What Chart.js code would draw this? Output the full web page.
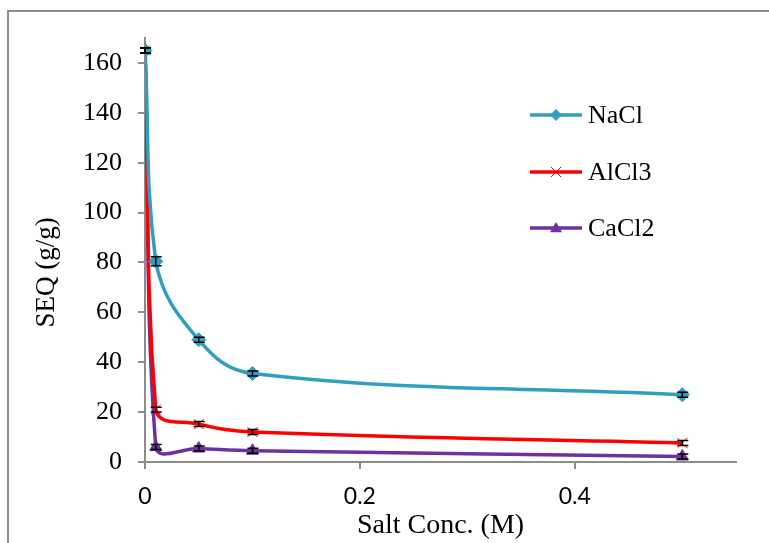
<!DOCTYPE html>
<html>
<head>
<meta charset="utf-8">
<script src="https://cdn.jsdelivr.net/npm/chart.js@4/dist/chart.umd.min.js"></script>
<style>
html,body{margin:0;padding:0;background:#fff;}
#wrap{width:769px;height:543px;position:relative;}
</style>
</head>
<body>
<div id="wrap"><canvas id="c" width="769" height="543"></canvas></div>
<script>
// ---- data ----
const concentrations = [0, 0.01, 0.05, 0.1, 0.5];
const naclSEQ  = [165, 80.5, 49, 35.5, 27];
const alcl3SEQ = [165, 21, 15.2, 12, 7.6];
const cacl2SEQ = [165, 6, 5.4, 4.5, 2.2];
const naclErr  = [1, 1.8, 1, 1, 1];
const alcl3Err = [1, 1, 1, 1, 1];
const cacl2Err = [1, 1, 1, 1, 1];
const seriesNames = ['NaCl', 'AlCl3', 'CaCl2'];
const yTickValues = [0, 20, 40, 60, 80, 100, 120, 140, 160];
const xTickValues = [0, 0.2, 0.4];
const xTitle = 'Salt Conc. (M)';
const yTitle = 'SEQ (g/g)';

const colors = ['#2E9FC0', '#FF0000', '#7030A0'];
const styles = ['rectRot', 'crossRot', 'triangle'];
const values = [naclSEQ, alcl3SEQ, cacl2SEQ];
const errs = [naclErr, alcl3Err, cacl2Err];

const datasets = seriesNames.map((name, k) => ({
  label: name,
  data: concentrations.map((x, i) => ({x: x, y: values[k][i]})),
  borderColor: colors[k],
  backgroundColor: colors[k],
  pointBorderColor: colors[k],
  pointBackgroundColor: colors[k],
  pointStyle: styles[k],
  pointRadius: k === 0 ? 7 : 7,
  pointBorderWidth: 1,
  borderWidth: 3.5,
  tension: 0.4,
  fill: false,
  errors: errs[k]
}));

const frame = {
  id: 'frame',
  beforeDraw(chart) {
    const ctx = chart.ctx;
    ctx.save();
    ctx.fillStyle = '#fff';
    ctx.fillRect(0, 0, chart.width, chart.height);
    ctx.strokeStyle = '#8c8c8c';
    ctx.lineWidth = 2;
    ctx.beginPath();
    ctx.moveTo(8, chart.height);
    ctx.lineTo(8, 11);
    ctx.lineTo(chart.width, 11);
    ctx.stroke();
    ctx.restore();
  }
};

const errorBars = {
  id: 'errorBars',
  afterDatasetsDraw(chart) {
    const ctx = chart.ctx;
    const xs = chart.scales.x, ys = chart.scales.y;
    ctx.save();
    ctx.strokeStyle = '#000';
    ctx.lineWidth = 1.5;
    chart.data.datasets.forEach(ds => {
      ds.data.forEach((p, i) => {
        const e = ds.errors[i];
        const px = xs.getPixelForValue(p.x);
        const y1 = ys.getPixelForValue(p.y + e);
        const y2 = ys.getPixelForValue(p.y - e);
        ctx.beginPath();
        ctx.moveTo(px, y1); ctx.lineTo(px, y2);
        ctx.moveTo(px - 5, y1); ctx.lineTo(px + 6, y1);
        ctx.moveTo(px - 5, y2); ctx.lineTo(px + 6, y2);
        ctx.stroke();
      });
    });
    ctx.restore();
  }
};

function drawMarker(ctx, style, x, y, color) {
  ctx.save();
  ctx.fillStyle = color; ctx.strokeStyle = color;
  ctx.beginPath();
  if (style === 'rectRot') {
    const r = 6;
    ctx.moveTo(x, y - r); ctx.lineTo(x + r, y); ctx.lineTo(x, y + r); ctx.lineTo(x - r, y); ctx.closePath(); ctx.fill();
  } else if (style === 'crossRot') {
    const r = 5; ctx.lineWidth = 1;
    ctx.moveTo(x - r, y - r); ctx.lineTo(x + r, y + r);
    ctx.moveTo(x + r, y - r); ctx.lineTo(x - r, y + r); ctx.stroke();
  } else {
    const r = 6;
    ctx.moveTo(x, y - r); ctx.lineTo(x + r, y + r * 0.7); ctx.lineTo(x - r, y + r * 0.7); ctx.closePath(); ctx.fill();
  }
  ctx.restore();
}

const customLegend = {
  id: 'customLegend',
  afterDraw(chart) {
    const ctx = chart.ctx;
    ctx.save();
    const x0 = 530, x1 = 582, tx = 588;
    const rowY = [115, 172, 228];
    chart.data.datasets.forEach((ds, k) => {
      const y = rowY[k];
      ctx.strokeStyle = ds.borderColor;
      ctx.lineWidth = 3.5;
      ctx.beginPath(); ctx.moveTo(x0, y); ctx.lineTo(x1, y); ctx.stroke();
      drawMarker(ctx, ds.pointStyle, (x0 + x1) / 2, y, ds.borderColor);
      ctx.fillStyle = '#000';
      ctx.font = '26px "Liberation Serif", "Times New Roman", serif';
      ctx.textBaseline = 'middle';
      ctx.textAlign = 'left';
      ctx.fillText(ds.label, tx, y + 1);
    });
    // y axis title (rotated), offset as in the original layout
    const ys = chart.scales.y;
    ctx.translate(47, ys.getPixelForValue(76));
    ctx.rotate(-Math.PI / 2);
    ctx.font = '27px "Liberation Serif", "Times New Roman", serif';
    ctx.textAlign = 'center';
    ctx.textBaseline = 'middle';
    ctx.fillText(yTitle, 0, 0);
    ctx.restore();
  }
};

new Chart(document.getElementById('c'), {
  type: 'line',
  data: { datasets: datasets },
  options: {
    responsive: false,
    animation: false,
    devicePixelRatio: 1,
    layout: { padding: { left: 0, top: 38, right: 33, bottom: 0 } },
    plugins: { legend: { display: false }, tooltip: { enabled: false } },
    scales: {
      x: {
        type: 'linear',
        min: 0, max: 0.55,
        afterFit(s) { s.height = 81; },
        afterBuildTicks(s) { s.ticks = xTickValues.map(v => ({value: v})); },
        grid: { drawOnChartArea: false, drawTicks: true, tickLength: 7, color: '#8c8c8c', lineWidth: 2 },
        border: { color: '#8c8c8c', width: 2 },
        ticks: { color: '#000', padding: 14, font: { family: 'Lato', size: 23 }, callback: v => String(v), maxRotation: 0 },
        title: { display: true, text: xTitle, color: '#000', font: { family: '"Liberation Serif"', size: 28 }, padding: { top: 0, bottom: 1 } }
      },
      y: {
        type: 'linear',
        min: 0, max: 170,
        afterFit(s) { s.width = 145; },
        afterBuildTicks(s) { s.ticks = yTickValues.map(v => ({value: v})); },
        grid: { drawOnChartArea: false, drawTicks: true, tickLength: 7, color: '#8c8c8c', lineWidth: 2 },
        border: { color: '#8c8c8c', width: 2 },
        ticks: { color: '#000', padding: 16, font: { family: '"Liberation Serif"', size: 26 } },
        title: { display: false }
      }
    }
  },
  plugins: [frame, errorBars, customLegend]
});
</script>
</body>
</html>
